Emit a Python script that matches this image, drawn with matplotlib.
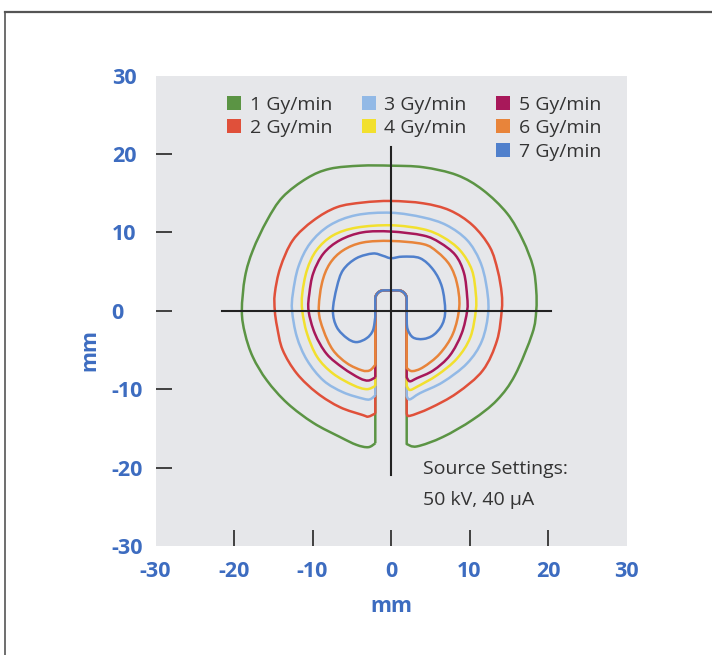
import matplotlib
matplotlib.use("Agg")
import matplotlib.pyplot as plt
from matplotlib.patches import Patch, PathPatch
from matplotlib.path import Path
import numpy as np

# ---------------- data ----------------
dose_labels = ["1 Gy/min", "2 Gy/min", "3 Gy/min", "4 Gy/min",
               "5 Gy/min", "6 Gy/min", "7 Gy/min"]
dose_colors = ["#5b9444", "#e0503a", "#92b9e6", "#f2e02e",
               "#a8185a", "#e8843a", "#5080cc"]

# isodose lines: from the left side of the applicator, around the top, to the right side
c1_x = [-2.0, -2.9, -4.4, -6.5, -9.9, -13.2, -15.8, -17.6, -18.6, -19.0, -18.6, -17.6, -15.8, -13.8,
        -10.7, -7.8, -3.9, 0.0, 4.1, 8.4, 11.7, 14.8, 16.8, 18.1, 18.5, 18.5, 18.0, 15.8, 13.5, 10.4,
        6.6, 3.3, 2.0]
c1_y = [-16.9, -17.4, -17.1, -16.1, -14.3, -11.8, -8.9, -5.9, -2.9, 0.0, 4.3, 7.7, 11.5, 14.5,
        16.9, 18.1, 18.5, 18.5, 18.3, 17.3, 15.4, 12.4, 9.0, 5.6, 2.6, 0.0, -2.9, -8.2, -11.4, -13.9,
        -16.1, -17.3, -17.0]

c2_x = [-2.0, -2.9, -3.6, -6.5, -9.4, -12.0, -13.8, -14.5, -14.8, -14.8, -14.1, -12.5, -9.9, -6.9,
        -3.6, 0.0, 4.1, 7.5, 10.4, 12.6, 13.6, 14.1, 14.1, 13.5, 11.7, 8.4, 5.0, 2.4, 2.0]
c2_y = [-13.1, -13.5, -13.3, -12.3, -10.5, -8.0, -5.0, -2.1, 0.0, 2.2, 5.5, 9.0, 11.5, 13.2,
        13.8, 14.0, 13.7, 12.8, 10.9, 8.1, 5.1, 2.2, 0.0, -3.8, -7.6, -10.5, -12.4, -13.4, -13.1]

c3_x = [-2.0, -2.7, -3.6, -6.1, -8.6, -10.7, -12.0, -12.6, -12.5, -11.8, -10.3, -7.8, -4.4, 0.0,
        4.1, 7.1, 9.7, 11.3, 12.1, 12.4, 11.6, 9.7, 6.6, 3.7, 2.4, 2.0]
c3_y = [-10.8, -11.3, -11.2, -10.4, -8.9, -6.3, -3.3, 0.0, 2.2, 5.6, 8.6, 10.9, 12.2, 12.5,
        11.9, 10.9, 9.0, 6.4, 3.5, 0.0, -3.8, -6.7, -9.1, -10.5, -11.3, -10.9]

c4_x = [-2.0, -3.1, -4.8, -7.4, -9.4, -10.7, -11.3, -11.3, -10.7, -9.5, -7.4, -4.4, 0.0,
        4.1, 6.6, 8.8, 10.3, 10.8, 10.8, 10.1, 8.4, 5.9, 3.3, 2.4, 2.0]
c4_y = [-9.6, -10.0, -9.5, -8.0, -5.9, -2.9, 0.0, 2.2, 5.2, 7.7, 9.6, 10.6, 10.9,
        10.4, 9.4, 7.7, 5.2, 2.2, 0.0, -3.4, -6.1, -8.2, -9.7, -10.1, -9.6]

c5_x = [-2.0, -2.9, -4.0, -6.1, -8.2, -9.7, -10.5, -10.4, -9.9, -8.6, -6.5, -3.6, 0.0,
        4.1, 6.2, 8.2, 9.3, 9.7, 9.7, 9.0, 7.5, 5.4, 3.3, 2.4, 2.0]
c5_y = [-8.5, -8.9, -8.6, -7.3, -5.5, -2.9, 0.0, 2.2, 4.8, 7.3, 9.0, 10.0, 10.1,
        9.6, 8.7, 7.1, 4.8, 1.8, 0.0, -2.9, -5.7, -7.6, -8.6, -9.0, -8.5]

c6_x = [-2.0, -2.7, -3.7, -5.6, -7.4, -8.6, -9.2, -8.8, -7.8, -6.1, -3.6, 0.0,
        4.1, 5.9, 7.5, 8.4, 8.7, 7.9, 6.2, 4.1, 2.7, 2.0]
c6_y = [-6.9, -7.6, -7.6, -6.7, -5.0, -2.5, 0.0, 3.5, 6.0, 7.7, 8.7, 8.9,
        8.5, 7.5, 5.8, 3.5, 0.5, -2.9, -5.5, -7.2, -7.7, -7.3]

c7_x = [-2.0, -2.3, -3.1, -4.4, -5.6, -6.9, -7.4, -6.9, -6.1, -4.4, -2.3, -1.0, 0.0,
        1.5, 3.7, 5.4, 6.5, 6.9, 6.5, 5.4, 4.1, 2.8, 2.1, 2.0]
c7_y = [-0.8, -2.5, -3.5, -4.0, -3.5, -2.1, 0.0, 3.0, 5.2, 6.7, 7.3, 7.0, 6.7,
        6.9, 6.7, 5.2, 3.0, 0.0, -1.8, -3.1, -3.6, -3.4, -2.3, -0.8]

contours_x = [c1_x, c2_x, c3_x, c4_x, c5_x, c6_x, c7_x]
contours_y = [c1_y, c2_y, c3_y, c4_y, c5_y, c6_y, c7_y]

# applicator tube (shared by all lines)
tube_half_width = 2.0
tube_tip_y = 2.6
tube_corner = 1.1

tick_values = [-30, -20, -10, 0, 10, 20, 30]
tick_labels = ["-30", "-20", "-10", "0", "10", "20", "30"]

cross_h_x = [-21.5, 20.4]
cross_v_y = [-20.9, 20.9]

source_lines = ["Source Settings:", "50 kV, 40 µA"]
source_x = 4.1
source_y = [-20.2, -24.1]

# ---------------- style ----------------
BLUE = "#3d6cc0"
DARK = "#333333"
FONT = "Open Sans"
plt.rcParams["font.family"] = [FONT, "DejaVu Sans"]

W, H = 712, 655
fig = plt.figure(figsize=(W / 100, H / 100), dpi=100)
fig.patch.set_facecolor("white")
ax = fig.add_axes([155.5 / W, 109 / H, 471 / W, 470.5 / H])
ax.set_facecolor("#e6e7ea")
for s in ax.spines.values():
    s.set_visible(False)
ax.set_xlim(-30, 30)
ax.set_ylim(-30, 30)


def contour_path(xs, ys):
    """Smooth (Catmull-Rom as cubic Bezier) outer line, closed along the applicator tube."""
    P = np.column_stack([xs, ys]).astype(float)
    n = len(P)
    verts = [P[0]]
    codes = [Path.MOVETO]
    for i in range(n - 1):
        p0 = P[i - 1] if i > 0 else P[i]
        p1 = P[i]
        p2 = P[i + 1]
        p3 = P[i + 2] if i + 2 < n else P[i + 1]
        c1 = p1 + (p2 - p0) / 6.0
        c2 = p2 - (p3 - p1) / 6.0
        verts += [c1, c2, p2]
        codes += [Path.CURVE4] * 3
    r = tube_half_width
    cr = tube_corner
    top = tube_tip_y
    t1 = np.linspace(0, np.pi / 2, 12)
    t2 = np.linspace(np.pi / 2, np.pi, 12)
    tube = [(r, P[-1, 1]), (r, top - cr)]
    tube += list(zip(r - cr + cr * np.cos(t1), top - cr + cr * np.sin(t1)))
    tube += list(zip(-r + cr + cr * np.cos(t2), top - cr + cr * np.sin(t2)))
    tube += [(-r, P[0, 1]), tuple(P[0])]
    for v in tube:
        verts.append(np.array(v))
        codes.append(Path.LINETO)
    return Path(np.array(verts), codes)


for xs, ys, col in zip(contours_x, contours_y, dose_colors):
    pp = PathPatch(contour_path(xs, ys), facecolor="none", edgecolor=col, lw=1.8,
                   joinstyle="round", zorder=2)
    ax.add_patch(pp)

# cross hair
ax.plot(cross_h_x, [0, 0], color="#222222", lw=1.5, zorder=3)
ax.plot([0, 0], cross_v_y, color="#222222", lw=1.5, zorder=3)

# ticks
ax.set_xticks(tick_values)
ax.set_xticklabels(tick_labels)
ax.set_yticks(tick_values)
ax.set_yticklabels(tick_labels)
ax.tick_params(direction="in", length=11.5, width=1.3, color=DARK,
               labelcolor=BLUE, labelsize=15.5)
ax.tick_params(axis="x", pad=11)
ax.tick_params(axis="y", pad=31.5)
for lab in ax.get_yticklabels():
    lab.set_ha("left")
    lab.set_fontweight("bold")
for lab in ax.get_xticklabels():
    lab.set_fontweight("bold")
for tk in ax.xaxis.get_major_ticks() + ax.yaxis.get_major_ticks():
    if abs(tk.get_loc()) >= 30:
        tk.tick1line.set_visible(False)

ax.set_xlabel("mm", color=BLUE, fontsize=15.5, fontweight="bold")
ax.xaxis.set_label_coords(0.5, -0.107)
ax.set_ylabel("mm", color=BLUE, fontsize=15.5, fontweight="bold")
ax.yaxis.set_label_coords(-0.118, 0.417)

# legend
handles = [Patch(facecolor=c, edgecolor="none", label=l) for c, l in zip(dose_colors, dose_labels)]
blank = Patch(facecolor="none", edgecolor="none", label="")
order = [handles[0], handles[1], blank, handles[2], handles[3], blank,
         handles[4], handles[5], handles[6]]
leg = ax.legend(handles=order, ncol=3, loc="upper left", bbox_to_anchor=(0.152, 0.957),
                frameon=False, fontsize=14, handlelength=0.72, handleheight=0.72,
                handletextpad=0.45, columnspacing=1.5, labelspacing=0.28,
                borderpad=0, borderaxespad=0, labelcolor=DARK)

for txt, yy in zip(source_lines, source_y):
    ax.text(source_x, yy, txt, ha="left", va="center", fontsize=14, color=DARK, zorder=4)

# outer frame (top and left edges visible)
fig.add_artist(plt.Line2D([5 / W, 1.0], [1 - 12 / H, 1 - 12 / H], transform=fig.transFigure,
                          color="#555555", lw=1.6))
fig.add_artist(plt.Line2D([5 / W, 5 / W], [0.0, 1 - 12 / H], transform=fig.transFigure,
                          color="#555555", lw=1.2))

fig.savefig("out.png", dpi=100)
